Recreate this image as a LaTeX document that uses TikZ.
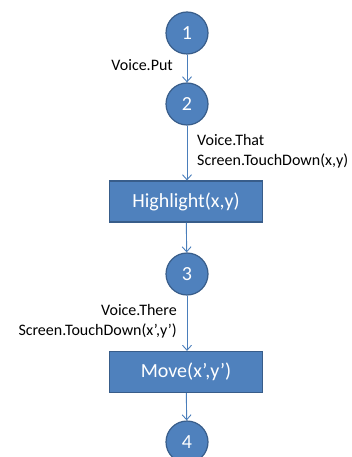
\documentclass[tikz,border=0pt]{standalone}
\usepackage{fontspec}
\setmainfont{Carlito}
\usetikzlibrary{arrows.meta}
\definecolor{ofill}{HTML}{4F81BD}
\definecolor{oline}{HTML}{385D8A}
\definecolor{oarrow}{HTML}{4A7EBB}
\tikzset{
  state/.style={circle, fill=ofill, draw=oline, line width=1.2pt, minimum size=42pt, inner sep=0pt, text=white, font=\fontsize{20}{24}\selectfont},
  action/.style={rectangle, fill=ofill, draw=oline, line width=1.2pt, minimum width=153pt, minimum height=41pt, inner sep=0pt, text=white, font=\fontsize{20}{24}\selectfont},
  conn/.style={draw=oarrow, line width=0.9pt, -{Straight Barb[length=5pt,width=9pt]}},
  lbl/.style={font=\fontsize{16}{19.5}\selectfont, inner sep=0pt}
}
\begin{document}
\begin{tikzpicture}[x=1pt,y=-1pt]
\useasboundingbox (0,0) rectangle (352,457);
\node[state] (n1) at (187,33) {1};
\node[state] (n2) at (187,104) {2};
\node[action] (hl) at (186,201.5) {Highlight(x,y)};
\node[state] (n3) at (187,274) {3};
\node[action] (mv) at (186,372) {Move(x’,y’)};
\node[state] (n4) at (187,442) {4};
\draw[conn] (n1) -- (n2);
\draw[conn] (n2) -- (n2 |- hl.north);
\draw[conn] (hl) -- (n3);
\draw[conn] (n3) -- (n3 |- mv.north);
\draw[conn] (mv) -- (n4);
\node[lbl, anchor=east] (l1) at (173,65) {Voice.Put};
\node[lbl, anchor=west, align=left] (l2) at (197,151) {Voice.That\\Screen.TouchDown(x,y)};
\node[lbl, anchor=east, align=right] (l3) at (177,321) {Voice.There\\Screen.TouchDown(x’,y’)};
\end{tikzpicture}
\end{document}
